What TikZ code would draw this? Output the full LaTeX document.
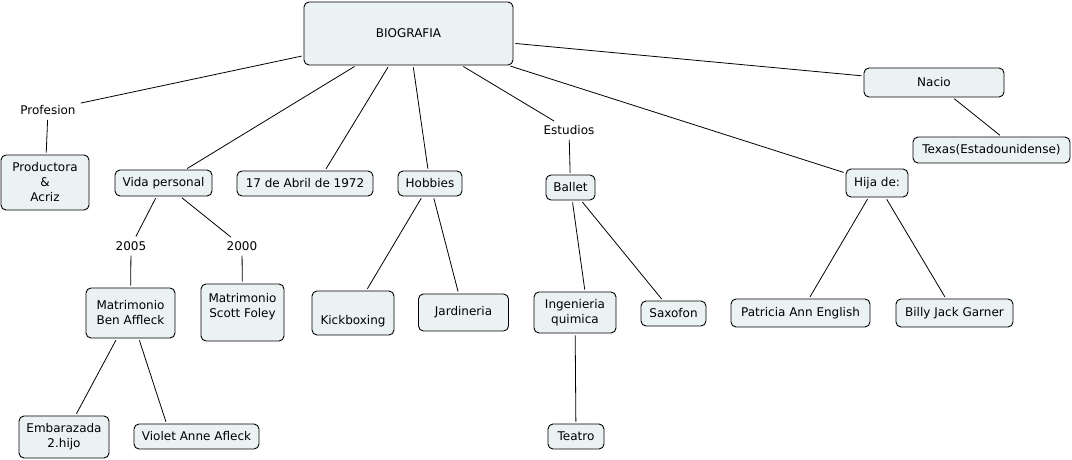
\documentclass[tikz,border=0pt]{standalone}
\usepackage{fontspec}
\setmainfont{DejaVu Sans}
\usepackage{tikz}
\definecolor{cmapfill}{HTML}{EBF2F4}

\begin{document}
\begin{tikzpicture}[x=1pt,y=-1pt,
  concepto/.style={draw, line width=0.9pt, rounded corners=5pt, fill=cmapfill, align=center, inner sep=0pt, font=\fontsize{12}{15}\selectfont},
  frase/.style={align=center, inner xsep=3pt, inner ysep=3pt, font=\fontsize{12}{15}\selectfont},
  enlace/.style={line width=0.8pt, shorten <=2pt, shorten >=2pt}]
\useasboundingbox (0,0) rectangle (1072,460);
\node[concepto, minimum width=209pt, minimum height=63pt] (bio) at (408.5,33.5) {BIOGRAFIA};
\node[concepto, minimum width=140pt, minimum height=29pt] (nacio) at (934,82.5) {Nacio};
\node[concepto, minimum width=157pt, minimum height=26pt] (texas) at (991.5,150) {Texas(Estadounidense)};
\node[frase] (profesion) at (48,110) {Profesion};
\node[concepto, minimum width=88pt, minimum height=55pt] (productora) at (45,182.5) {Productora\\\&\\Acriz};
\node[concepto, minimum width=97pt, minimum height=26pt] (vida) at (163.5,183) {Vida personal};
\node[concepto, minimum width=136pt, minimum height=25pt] (abril) at (305,183.5) {17 de Abril de 1972};
\node[concepto, minimum width=64pt, minimum height=25pt] (hobbies) at (430,183.5) {Hobbies};
\node[frase] (estudios) at (569,130) {Estudios};
\node[concepto, minimum width=49pt, minimum height=25pt] (ballet) at (570.5,187.5) {Ballet};
\node[concepto, minimum width=62pt, minimum height=28pt] (hija) at (877,183) {Hija de:};
\node[frase] (a2005) at (131,246) {2005};
\node[frase] (a2000) at (242,246) {2000};
\node[concepto, minimum width=89pt, minimum height=50pt] (ben) at (130.5,313) {Matrimonio\\Ben Affleck};
\node[concepto, minimum width=83pt, minimum height=57pt] (scott) at (242.5,312.5) {Matrimonio\\Scott Foley\\\mbox{}};
\node[concepto, minimum width=82pt, minimum height=44pt] (kick) at (353,313) {\strut\\Kickboxing};
\node[concepto, minimum width=90pt, minimum height=37pt] (jardin) at (463.5,312.5) {Jardineria};
\node[concepto, minimum width=82pt, minimum height=41pt] (inge) at (575,312.5) {Ingenieria\\quimica};
\node[concepto, minimum width=65pt, minimum height=25pt] (saxofon) at (673.5,313.5) {Saxofon};
\node[concepto, minimum width=139pt, minimum height=28pt] (patricia) at (800.5,313) {Patricia Ann English};
\node[concepto, minimum width=117pt, minimum height=28pt] (billy) at (954.5,313) {Billy Jack Garner};
\node[concepto, minimum width=90pt, minimum height=42pt] (embarazada) at (64,437) {Embarazada\\2.hijo};
\node[concepto, minimum width=125pt, minimum height=25pt] (violet) at (196.5,436.5) {Violet Anne Afleck};
\node[concepto, minimum width=56pt, minimum height=25pt] (teatro) at (576,436.5) {Teatro};
\foreach \a/\b in {bio/profesion, profesion/productora, bio/vida, bio/hobbies, bio/estudios, bio/hija, bio/nacio,
    vida/a2005, vida/a2000, a2005/ben, a2000/scott, ben/embarazada, hobbies/kick, hobbies/jardin,
    estudios/ballet, ballet/saxofon, inge/teatro, hija/patricia, hija/billy}
  \draw[enlace] (\a) -- (\b);
\draw[enlace] (bio) -- ([xshift=20pt]abril.north);
\draw[enlace] (nacio) -- ([xshift=10pt]texas.north);
\draw[enlace] (ben) -- ([xshift=-30pt]violet.north);
\draw[enlace] (ballet) -- ([xshift=10pt]inge.north);
\end{tikzpicture}
\end{document}
